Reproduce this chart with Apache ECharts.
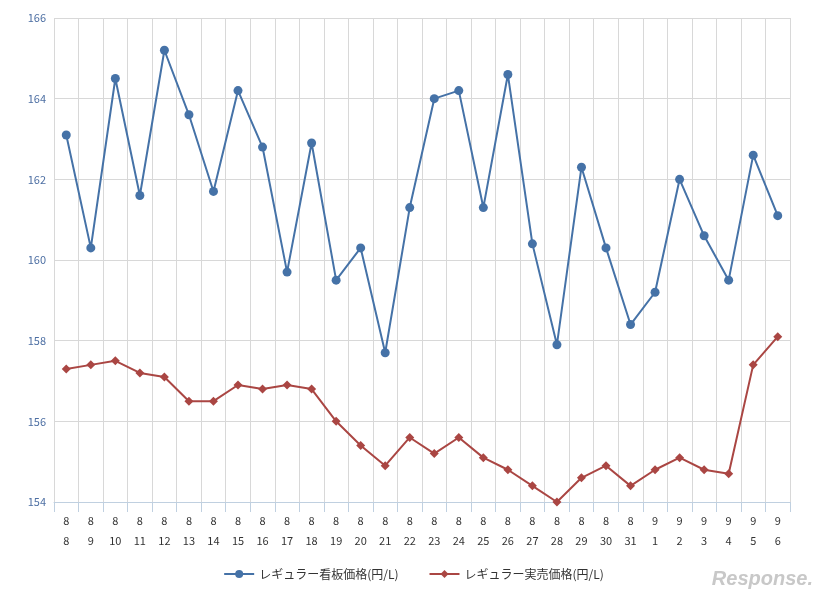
<!DOCTYPE html>
<html>
<head>
<meta charset="UTF-8">
<script src="https://cdn.jsdelivr.net/npm/echarts@6/dist/echarts.min.js"></script>
<style>html,body{margin:0;background:#fff}#main{width:827px;height:599px}</style>
</head>
<body>
<div id="main"></div>
<script>
// 日付 (月\n日)
var days = ['8\n8','8\n9','8\n10','8\n11','8\n12','8\n13','8\n14','8\n15','8\n16','8\n17','8\n18','8\n19','8\n20','8\n21','8\n22','8\n23','8\n24','8\n25','8\n26','8\n27','8\n28','8\n29','8\n30','8\n31','9\n1','9\n2','9\n3','9\n4','9\n5','9\n6'];
var kanban = [163.1,160.3,164.5,161.6,165.2,163.6,161.7,164.2,162.8,159.7,162.9,159.5,160.3,157.7,161.3,164.0,164.2,161.3,164.6,160.4,157.9,162.3,160.3,158.4,159.2,162.0,160.6,159.5,162.6,161.1];
var jitsubai = [157.3,157.4,157.5,157.2,157.1,156.5,156.5,156.9,156.8,156.9,156.8,156.0,155.4,154.9,155.6,155.2,155.6,155.1,154.8,154.4,154.0,154.6,154.9,154.4,154.8,155.1,154.8,154.7,157.4,158.1];

var chart = echarts.init(document.getElementById('main'));
chart.setOption({
    animation: false,
    textStyle: {fontFamily: 'Noto Sans CJK JP'},
    grid: {left: 54, right: 37, top: 18, bottom: 97},
    legend: {
        bottom: 14, left: 'center', itemGap: 30, itemWidth: 30, itemHeight: 10,
        textStyle: {fontSize: 12, color: '#333'},
        data: ['レギュラー看板価格(円/L)', 'レギュラー実売価格(円/L)']
    },
    xAxis: {
        type: 'category', data: days, boundaryGap: true,
        axisLine: {lineStyle: {color: '#c0d0e0'}},
        axisTick: {show: true, length: 10, lineStyle: {color: '#c0d0e0'}},
        splitLine: {show: true, lineStyle: {color: '#d8d8d8'}},
        axisLabel: {color: '#333', fontSize: 11, lineHeight: 20, margin: 9}
    },
    yAxis: {
        type: 'value', min: 154, max: 166, interval: 2,
        axisLabel: {color: '#4d6fa3', fontSize: 11},
        splitLine: {lineStyle: {color: '#d8d8d8'}}
    },
    series: [
        {name: 'レギュラー看板価格(円/L)', type: 'line', data: kanban, symbol: 'circle', symbolSize: 9,
         itemStyle: {color: '#4572A7'}, lineStyle: {width: 2}},
        {name: 'レギュラー実売価格(円/L)', type: 'line', data: jitsubai, symbol: 'diamond', symbolSize: 9,
         itemStyle: {color: '#AA4643'}, lineStyle: {width: 2}}
    ],
    graphic: [{type: 'text', right: 14, bottom: 10,
        style: {text: 'Response.', fill: '#c8c8c8', font: 'italic bold 20px Arial'}}]
});
</script>
</body>
</html>
